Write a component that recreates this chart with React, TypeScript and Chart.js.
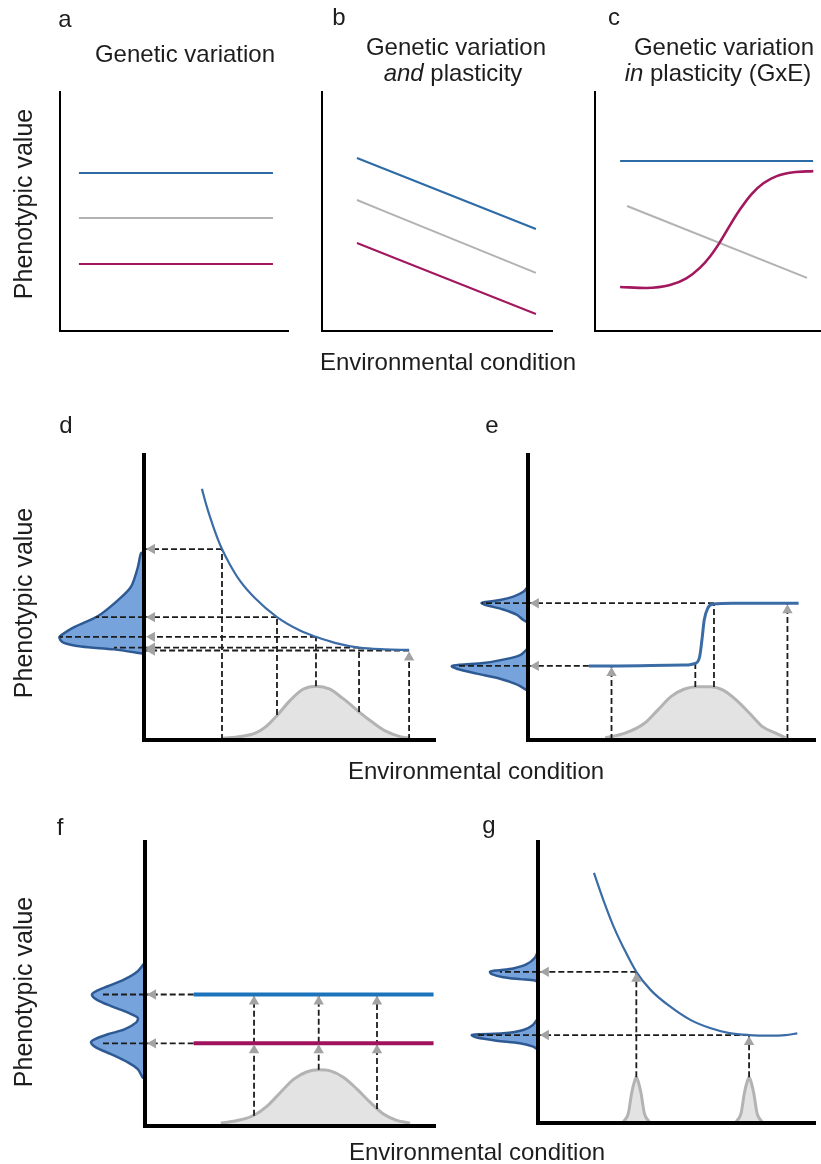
import React, { useEffect, useRef } from 'react';
import { Chart, registerables } from 'chart.js';

Chart.register(...registerables);

const PAGE_W = 821;
const PAGE_H = 1164;

// ================= DATA (abstract units: x 0-10 environment, y 0-10 phenotype) =================
// Panel a — genetic variation
const aLineX = [0.83, 9.34];
const aBlueY = [6.61, 6.61];
const aGrayY = [4.73, 4.73];
const aMagentaY = [2.8, 2.8];

// Panel b — genetic variation and plasticity
const bLineX = [1.52, 9.3];
const bBlueY = [7.24, 4.27];
const bGrayY = [5.48, 2.43];
const bMagentaY = [3.68, 0.71];

// Panel c — genetic variation in plasticity (GxE)
const cBlueX = [1.11, 9.65];
const cBlueY = [7.11, 7.11];
const cGrayX = [1.42, 9.38];
const cGrayY = [5.23, 2.22];
const cMagentaX = [1.11, 2.27, 3.32, 4.04, 4.65, 5.09, 5.53, 5.97, 6.42, 6.93, 7.45, 8.04, 8.78, 9.66];
const cMagentaY = [1.84, 1.8, 1.92, 2.2, 2.65, 3.12, 3.72, 4.42, 5.09, 5.73, 6.18, 6.48, 6.64, 6.69];

// Panel d — reaction norm (decaying), environment distribution, phenotype distribution
const dCurveX = [1.99, 2.16, 2.34, 2.51, 2.68, 2.96, 3.3, 3.81, 4.57, 5.36, 5.91, 6.56, 7.39, 8.28, 9.11];
const dCurveY = [8.81, 8.18, 7.61, 7.12, 6.7, 6.14, 5.58, 4.98, 4.31, 3.84, 3.62, 3.41, 3.24, 3.18, 3.16];
const dEnvX = [2.71, 3.32, 3.84, 4.18, 4.59, 5.03, 5.48, 5.92, 6.37, 6.82, 7.16, 7.4, 7.84, 8.29, 8.8, 9.14];
const dEnvY = [0.06, 0.12, 0.25, 0.46, 0.88, 1.4, 1.79, 1.89, 1.79, 1.47, 1.19, 0.98, 0.63, 0.32, 0.12, 0.06];
const dPhenD = [0, 0.1, 0.21, 0.45, 0.89, 1.58, 2.4, 2.84, 2.91, 2.77, 2.16, 1.03, 0.1, 0];
const dPhenY = [6.56, 6.56, 6.07, 5.37, 4.91, 4.35, 3.96, 3.68, 3.6, 3.42, 3.28, 3.18, 3.04, 3.02];
const dProbeX = [2.68, 4.57, 5.91, 7.39, 9.11];
const dProbeFrom = [0, 0.88, 1.89, 0.98, 0];
const dProbeY = [6.7, 4.31, 3.62, 3.24, 3.14];
const dProbeArrow = [0, 0, 0, 0, 1];
const dGuideReach = [0, 1.66, 2.9, 1.03, 0];

// Panel e — threshold reaction norm
const eCurveX = [2.12, 3.15, 4.29, 5.43, 5.83, 5.98, 6.06, 6.14, 6.26, 6.46, 7.15, 8.29, 9.43];
const eCurveY = [2.6, 2.6, 2.61, 2.63, 2.69, 2.92, 3.51, 4.21, 4.62, 4.77, 4.8, 4.8, 4.8];
const eEnvX = [2.69, 3.38, 4.06, 4.52, 4.98, 5.43, 5.89, 6.35, 6.8, 7.26, 7.72, 8.17, 8.63, 8.97];
const eEnvY = [0.08, 0.24, 0.59, 1.05, 1.52, 1.78, 1.87, 1.87, 1.75, 1.4, 0.94, 0.47, 0.24, 0.08];
const eUpperD = [0, 0.16, 0.5, 0.96, 1.47, 1.59, 1.42, 0.85, 0.39, 0.16, 0];
const eUpperY = [5.38, 5.2, 5.03, 4.91, 4.84, 4.8, 4.73, 4.58, 4.4, 4.21, 4.12];
const eLowerD = [0, 0.27, 0.85, 1.53, 2.33, 2.61, 2.44, 1.76, 0.96, 0.39, 0.04, 0];
const eLowerY = [3.22, 2.98, 2.82, 2.7, 2.64, 2.59, 2.5, 2.33, 2.15, 1.95, 1.75, 1.72];
const eProbeX = [2.91, 5.83, 6.48, 9.04];
const eProbeFrom = [0, 1.86, 1.86, 0];
const eProbeY = [2.6, 2.69, 4.8, 4.8];
const eProbeArrow = [1, 0, 0, 1];
const eGuideY = [4.8, 2.6];
const eGuideFromX = [6.48, 2.12];
const eGuideReach = [1.58, 2.43];

// Panel f — two genotypes, no plasticity
const fLineX = [1.68, 9.95];
const fBlueY = [4.63, 4.63];
const fMagentaY = [2.91, 2.91];
const fEnvX = [2.61, 3.3, 3.76, 4.22, 4.67, 5.13, 5.59, 5.99, 6.39, 6.85, 7.31, 7.77, 8.22, 8.68, 9.14];
const fEnvY = [0.1, 0.22, 0.38, 0.71, 1.18, 1.65, 1.91, 1.98, 1.94, 1.71, 1.3, 0.83, 0.42, 0.2, 0.1];
const fPhenD = [0, 0.02, 0.25, 0.71, 1.28, 1.68, 1.83, 1.68, 1.17, 0.59, 0.25, 0.31, 0.71, 1.28, 1.74, 1.86, 1.68, 1.17, 0.59, 0.25, 0.08, 0];
const fPhenY = [5.76, 5.74, 5.45, 5.16, 4.92, 4.75, 4.63, 4.46, 4.22, 3.99, 3.81, 3.64, 3.4, 3.23, 3.05, 2.94, 2.76, 2.53, 2.24, 2.0, 1.71, 1.68];
const fProbeX = [3.76, 5.99, 8.0];
const fProbeFrom = [0.36, 1.98, 0.6];
const fProbeTo = [4.63, 4.63, 4.63];
const fArrowTips = [2.91, 4.63];
const fGuideY = [4.63, 2.91];
const fGuideFromX = [1.68, 1.68];
const fGuideReach = [1.51, 1.51];

// Panel g — two narrow environments
const gCurveX = [2.02, 2.38, 2.73, 3.09, 3.55, 4.08, 4.79, 5.5, 6.21, 6.91, 7.62, 8.33, 8.94, 9.36];
const gCurveY = [8.9, 7.88, 6.99, 6.23, 5.38, 4.72, 4.13, 3.67, 3.38, 3.2, 3.13, 3.11, 3.13, 3.19];
const gEnv1X = [3.09, 3.26, 3.38, 3.48, 3.55, 3.62, 3.72, 3.84, 4.01];
const gEnv2X = [7.16, 7.33, 7.45, 7.55, 7.62, 7.69, 7.79, 7.91, 8.08];
const gEnvY = [0.05, 0.34, 1.06, 1.47, 1.63, 1.47, 1.06, 0.34, 0.05];
const gUpperD = [0, 0.11, 0.4, 0.88, 1.46, 1.7, 1.64, 1.23, 0.64, 0.11, 0];
const gUpperY = [6.12, 5.88, 5.65, 5.5, 5.43, 5.38, 5.3, 5.19, 5.12, 5.07, 5.01];
const gLowerD = [0, 0.18, 0.52, 1.23, 2.06, 2.35, 2.17, 1.46, 0.64, 0.17, 0];
const gLowerY = [3.73, 3.49, 3.31, 3.19, 3.16, 3.13, 3.04, 2.93, 2.84, 2.72, 2.6];
const gProbeX = [3.55, 7.62];
const gProbeFrom = [1.63, 1.63];
const gProbeY = [5.38, 3.13];
const gProbeArrow = [1, 1];
const gGuideReach = [1.35, 2.16];

// ================= STYLE =================
const BLUE = '#2d6ba6';
const GRAY = '#b2b2b2';
const MAGENTA = '#a2175d';
const CURVE_BLUE = '#3b6ca6';
const F_BLUE = '#1b74bb';
const F_MAGENTA = '#a0125e';
const ENV_FILL = '#e3e3e3';
const ENV_EDGE = '#b3b3b3';
const PHEN_FILL = '#77a3dd';
const PHEN_EDGE = '#2e5a94';
const DASH = '#1c1c1c';
const ARROW = '#a3a3a3';
const ARROW_R = 6;
const TEXT = '#1d1d1d';
const FONT = '"Liberation Sans", Arial, Helvetica, sans-serif';

const XMAX = 10;
const YMAX = 10;
const DIST_MAX = 3.3;

type Area = { left: number; top: number; right: number; bottom: number };
type Spec = { area: Area; xMax: number; yMax: number; reverse: boolean; axis: number; datasets: any[] };

const A_AREA: Area = { left: 60, top: 92, right: 288, bottom: 331 };
const B_AREA: Area = { left: 322, top: 92, right: 552, bottom: 331 };
const C_AREA: Area = { left: 595, top: 92, right: 821, bottom: 331 };
const D_AREA: Area = { left: 144, top: 455, right: 435, bottom: 740 };
const E_AREA: Area = { left: 528, top: 455, right: 820, bottom: 740 };
const F_AREA: Area = { left: 145, top: 842, right: 435, bottom: 1126 };
const G_AREA: Area = { left: 538, top: 842, right: 820, bottom: 1123 };

const pts = (xs: number[], ys: number[]) => xs.map((x, i) => ({ x, y: ys[i] }));

const lineDs = (xs: number[], ys: number[], color: string, width: number, order = 1) => ({
  data: pts(xs, ys),
  borderColor: color,
  borderWidth: width,
  cubicInterpolationMode: 'monotone',
  fill: false,
  pointRadius: 0,
  order,
});

const envDs = (xs: number[], ys: number[]) => ({
  data: pts(xs, ys),
  borderColor: ENV_EDGE,
  backgroundColor: ENV_FILL,
  borderWidth: 3,
  fill: 'origin',
  cubicInterpolationMode: 'monotone',
  pointRadius: 0,
  order: 6,
});

const phenDs = (ds: number[], ys: number[]) => ({
  data: pts(ds, ys),
  borderColor: PHEN_EDGE,
  backgroundColor: PHEN_FILL,
  borderWidth: 2.5,
  fill: 'shape',
  tension: 0.3,
  pointRadius: 0,
  order: 6,
});

const dashDs = (x1: number, y1: number, x2: number, y2: number) => ({
  data: [
    { x: x1, y: y1 },
    { x: x2, y: y2 },
  ],
  borderColor: DASH,
  borderWidth: 1.8,
  borderDash: [6, 3],
  fill: false,
  pointRadius: 0,
  order: 3,
});

const arrowDs = (p: { x: number; y: number }[], rot: number[]) => ({
  data: p,
  showLine: false,
  pointStyle: 'triangle',
  pointRadius: ARROW_R,
  pointRotation: rot,
  pointBackgroundColor: ARROW,
  pointBorderColor: ARROW,
  pointBorderWidth: 0,
  order: 0,
});

const simple = (area: Area, datasets: any[]): Spec => ({ area, xMax: XMAX, yMax: YMAX, reverse: false, axis: 2, datasets });

type Vert = { x: number; from: number; to: number; tips: number[] };
type Guide = { y: number; fromX: number; reach: number };

function probePanel(area: Area, base: any[], verts: Vert[], guides: Guide[], phen: any[]): Spec[] {
  const pxX = (area.right - area.left) / XMAX;
  const pxY = (area.bottom - area.top) / YMAX;
  const main: any[] = [...base];
  const arrowPts: { x: number; y: number }[] = [];
  const rots: number[] = [];
  verts.forEach((v) => {
    main.push(dashDs(v.x, v.from, v.x, v.to));
    v.tips.forEach((t) => {
      arrowPts.push({ x: v.x, y: t - (ARROW_R + 1) / pxY });
      rots.push(0);
    });
  });
  const distSets: any[] = [...phen];
  guides.forEach((g) => {
    main.push(dashDs(g.fromX, g.y, 0, g.y));
    arrowPts.push({ x: (2 + ARROW_R) / pxX, y: g.y });
    rots.push(-90);
    if (g.reach > 0) distSets.push(dashDs(0, g.y, g.reach, g.y));
  });
  main.push(arrowDs(arrowPts, rots));
  const distArea: Area = { left: area.left - DIST_MAX * pxX, top: area.top, right: area.left, bottom: area.bottom };
  return [
    { area: distArea, xMax: DIST_MAX, yMax: YMAX, reverse: true, axis: 0, datasets: distSets },
    { area, xMax: XMAX, yMax: YMAX, reverse: false, axis: 4, datasets: main },
  ];
}

function buildSpecs(): Spec[] {
  const specs: Spec[] = [];
  specs.push(
    simple(A_AREA, [
      lineDs(aLineX, aBlueY, BLUE, 2),
      lineDs(aLineX, aGrayY, GRAY, 2),
      lineDs(aLineX, aMagentaY, MAGENTA, 2),
    ])
  );
  specs.push(
    simple(B_AREA, [
      lineDs(bLineX, bBlueY, BLUE, 2),
      lineDs(bLineX, bGrayY, GRAY, 2),
      lineDs(bLineX, bMagentaY, MAGENTA, 2),
    ])
  );
  specs.push(
    simple(C_AREA, [
      lineDs(cBlueX, cBlueY, BLUE, 2, 2),
      lineDs(cGrayX, cGrayY, GRAY, 2, 2),
      lineDs(cMagentaX, cMagentaY, MAGENTA, 2.6, 1),
    ])
  );

  specs.push(
    ...probePanel(
      D_AREA,
      [envDs(dEnvX, dEnvY), lineDs(dCurveX, dCurveY, CURVE_BLUE, 2.2)],
      dProbeX.map((x, i) => ({ x, from: dProbeFrom[i], to: dProbeY[i], tips: dProbeArrow[i] ? [dProbeY[i]] : [] })),
      dProbeX.map((x, i) => ({ y: dProbeY[i], fromX: x, reach: dGuideReach[i] })),
      [phenDs(dPhenD, dPhenY)]
    )
  );
  specs.push(
    ...probePanel(
      E_AREA,
      [envDs(eEnvX, eEnvY), lineDs(eCurveX, eCurveY, CURVE_BLUE, 3)],
      eProbeX.map((x, i) => ({ x, from: eProbeFrom[i], to: eProbeY[i], tips: eProbeArrow[i] ? [eProbeY[i]] : [] })),
      eGuideY.map((y, i) => ({ y, fromX: eGuideFromX[i], reach: eGuideReach[i] })),
      [phenDs(eUpperD, eUpperY), phenDs(eLowerD, eLowerY)]
    )
  );
  specs.push(
    ...probePanel(
      F_AREA,
      [envDs(fEnvX, fEnvY), lineDs(fLineX, fBlueY, F_BLUE, 4), lineDs(fLineX, fMagentaY, F_MAGENTA, 4)],
      fProbeX.map((x, i) => ({ x, from: fProbeFrom[i], to: fProbeTo[i], tips: fArrowTips })),
      fGuideY.map((y, i) => ({ y, fromX: fGuideFromX[i], reach: fGuideReach[i] })),
      [phenDs(fPhenD, fPhenY)]
    )
  );
  specs.push(
    ...probePanel(
      G_AREA,
      [envDs(gEnv1X, gEnvY), envDs(gEnv2X, gEnvY), lineDs(gCurveX, gCurveY, CURVE_BLUE, 2.2)],
      gProbeX.map((x, i) => ({ x, from: gProbeFrom[i], to: gProbeY[i], tips: gProbeArrow[i] ? [gProbeY[i]] : [] })),
      gProbeX.map((x, i) => ({ y: gProbeY[i], fromX: x, reach: gGuideReach[i] })),
      [phenDs(gUpperD, gUpperY), phenDs(gLowerD, gLowerY)]
    )
  );
  return specs;
}

const SPECS = buildSpecs();

function makeConfig(spec: Spec): any {
  const show = spec.axis > 0;
  const axisOpts = (max: number, reverse: boolean) => ({
    type: 'linear',
    min: 0,
    max,
    reverse,
    display: show,
    ticks: { display: false },
    grid: { display: false, drawTicks: false, tickLength: 0 },
    border: { display: show, color: '#000', width: spec.axis, z: 1 },
  });
  return {
    type: 'line',
    data: { datasets: spec.datasets },
    options: {
      responsive: false,
      animation: false,
      events: [],
      layout: {
        padding: {
          left: spec.area.left,
          top: spec.area.top,
          right: PAGE_W - spec.area.right,
          bottom: PAGE_H - spec.area.bottom,
        },
      },
      plugins: { legend: { display: false }, tooltip: { enabled: false }, title: { display: false } },
      elements: { point: { radius: 0 } },
      scales: {
        x: axisOpts(spec.xMax, spec.reverse),
        y: axisOpts(spec.yMax, false),
      },
    },
  };
}

function Text({ x, baseline, children, size = 24 }: { x: number; baseline: number; children: any; size?: number }) {
  return (
    <div
      style={{
        position: 'absolute',
        left: x,
        top: baseline - 0.8465 * size,
        transform: 'translateX(-50%)',
        fontFamily: FONT,
        fontSize: size,
        lineHeight: `${size}px`,
        color: TEXT,
        whiteSpace: 'nowrap',
      }}
    >
      {children}
    </div>
  );
}

function VText({ x, y, children, size = 24 }: { x: number; y: number; children: any; size?: number }) {
  return (
    <div
      style={{
        position: 'absolute',
        left: x,
        top: y,
        transform: 'translate(-50%, -50%) rotate(-90deg)',
        fontFamily: FONT,
        fontSize: size,
        lineHeight: `${size}px`,
        color: TEXT,
        whiteSpace: 'nowrap',
      }}
    >
      {children}
    </div>
  );
}

export default function App() {
  const refs = useRef<(HTMLCanvasElement | null)[]>([]);

  useEffect(() => {
    const charts = SPECS.map((spec, i) => {
      const c = refs.current[i];
      if (!c) return null;
      return new Chart(c, makeConfig(spec));
    });
    return () => {
      charts.forEach((ch) => ch && ch.destroy());
    };
  }, []);

  return (
    <div style={{ position: 'absolute', left: 0, top: 0, width: PAGE_W, height: PAGE_H, background: '#fff', overflow: 'hidden' }}>
      {SPECS.map((_, i) => (
        <canvas
          key={i}
          ref={(el) => {
            refs.current[i] = el;
          }}
          width={PAGE_W}
          height={PAGE_H}
          style={{ position: 'absolute', left: 0, top: 0, width: PAGE_W, height: PAGE_H }}
        />
      ))}

      <Text x={65} baseline={27}>a</Text>
      <Text x={339} baseline={25}>b</Text>
      <Text x={614} baseline={25}>c</Text>
      <Text x={185} baseline={62}>Genetic variation</Text>
      <Text x={456} baseline={55}>Genetic variation</Text>
      <Text x={453} baseline={81}>
        <i>and</i> plasticity
      </Text>
      <Text x={724} baseline={55}>Genetic variation</Text>
      <Text x={718} baseline={81}>
        <i>in</i> plasticity (GxE)
      </Text>
      <VText x={23} y={204} size={25}>Phenotypic value</VText>
      <Text x={448} baseline={370}>Environmental condition</Text>

      <Text x={66} baseline={433}>d</Text>
      <Text x={492} baseline={433}>e</Text>
      <VText x={23} y={603} size={25}>Phenotypic value</VText>
      <Text x={476} baseline={779}>Environmental condition</Text>

      <Text x={60} baseline={835}>f</Text>
      <Text x={489} baseline={833}>g</Text>
      <VText x={23} y={992} size={25}>Phenotypic value</VText>
      <Text x={477} baseline={1160}>Environmental condition</Text>
    </div>
  );
}
